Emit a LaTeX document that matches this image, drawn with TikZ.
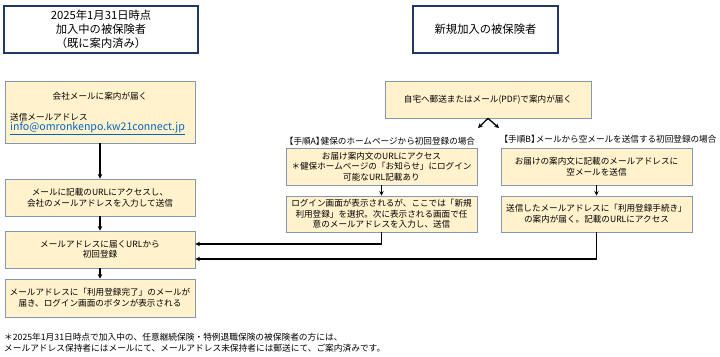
\documentclass[tikz,border=0pt]{standalone}
\usepackage{fontspec}
\setmainfont{Noto Sans CJK JP}
\usetikzlibrary{arrows.meta}
\definecolor{boxfill}{HTML}{FFF2CC}
\definecolor{boxline}{HTML}{8497B0}
\definecolor{navyline}{HTML}{1F3864}
\definecolor{linkblue}{HTML}{0563C1}
\tikzset{
  titlebox/.style={draw=navyline, fill=white, line width=1.6pt, align=center, inner sep=0pt,
    font=\fontsize{11.3}{14.2}\selectfont},
  ybox/.style={draw=boxline, fill=boxfill, line width=0.8pt, align=center, inner sep=0pt,
    font=\fontsize{8.6}{10.7}\selectfont},
  plain/.style={inner sep=0pt, font=\fontsize{8.6}{10.7}\selectfont},
  note/.style={inner sep=0pt, anchor=west, font=\fontsize{8.7}{11}\selectfont},
  arr/.style={line width=1.3pt, -{Stealth[length=4.5pt,width=4.5pt]}}
}
\begin{document}
\begin{tikzpicture}[x=1pt,y=-1pt]
\useasboundingbox[fill=white] (0,0) rectangle (720,356);

% title boxes
\node[titlebox, minimum width=194pt, minimum height=47pt] (t1) at (101,29.5)
  {2025年1月31日時点\\加入中の被保険者\\（既に案内済み）};
\node[titlebox, minimum width=145pt, minimum height=47pt] (t2) at (485.5,29.5)
  {新規加入の被保険者};

% left column
\node[ybox, minimum width=190pt, minimum height=62pt] (a1) at (100,112) {};
\node[plain] (a1t) at (100,96) {会社メールに案内が届く};
\node[plain, anchor=west] (a1s) at (10,117) {送信メールアドレス};
\node[plain, anchor=west, text=linkblue, font=\fontsize{10.6}{11}\selectfont] (a1e) at (10,128.5)
  {\underline{info@omronkenpo.kw21connect.jp}};

\node[ybox, minimum width=190pt, minimum height=37pt] (a2) at (100,197.5)
  {メールに記載のURLにアクセスし、\\会社のメールアドレスを入力して送信};
\node[ybox, minimum width=190pt, minimum height=37pt] (a3) at (100,249.5)
  {メールアドレスに届くURLから\\初回登録};
\node[ybox, minimum width=190pt, minimum height=38pt] (a4) at (100,298)
  {メールアドレスに「利用登録完了」のメールが\\届き、ログイン画面のボタンが表示される};

% right side
\node[ybox, minimum width=206pt, minimum height=37pt] (b0) at (488,99.5)
  {自宅へ郵送またはメール(PDF)で案内が届く};
\node[plain] (la) at (380,141.5) {【手順A】\kern-0.45em 健保のホームページから初回登録の場合};
\node[plain] (lb) at (608,139.5) {【手順B】\kern-0.45em メールから空メールを送信する初回登録の場合};

\node[ybox, minimum width=191pt, minimum height=37pt] (ba1) at (381.5,166.5)
  {お届け案内文のURLにアクセス\\＊健保ホームページの「お知らせ」にログイン\\可能なURL記載あり};
\node[ybox, minimum width=191pt, minimum height=36pt] (ba2) at (381.5,214)
  {ログイン画面が表示されるが、ここでは「新規\\利用登録」を選択。次に表示される画面で任\\意のメールアドレスを入力し、送信};
\node[ybox, minimum width=191pt, minimum height=37pt] (bb1) at (596.5,166.5)
  {お届けの案内文に記載のメールアドレスに\\空メールを送信};
\node[ybox, minimum width=191pt, minimum height=36pt] (bb2) at (596.5,214)
  {送信したメールアドレスに「利用登録手続き」\\の案内が届く。記載のURLにアクセス};

% footnote
\node[note] (n1) at (4,337) {＊2025年1月31日時点で加入中の、任意継続保険・特例退職保険の被保険者の方には、};
\node[note] (n2) at (4,348.5) {メールアドレス保持者にはメールにて、メールアドレス未保持者には郵送にて、ご案内済みです。};

% connectors
\draw[arr] (a1.south) -- (a2.north);
\draw[arr] (a2.south) -- (a3.north);
\draw[arr] (a3.south) -- (a4.north);
\coordinate (bl) at (478,128);
\coordinate (bR) at (499,128);
\draw[arr] (b0.south) -- (bl);
\draw[arr] (b0.south) -- (bR);
\draw[arr] (ba1.south) -- (ba2.north);
\draw[arr] (bb1.south) -- (bb2.north);
\draw[arr] (ba2.south) |- ([yshift=5.5pt]a3.east);
\draw[arr] (bb2.south) |- ([yshift=-9.5pt]a3.east);
\end{tikzpicture}
\end{document}
